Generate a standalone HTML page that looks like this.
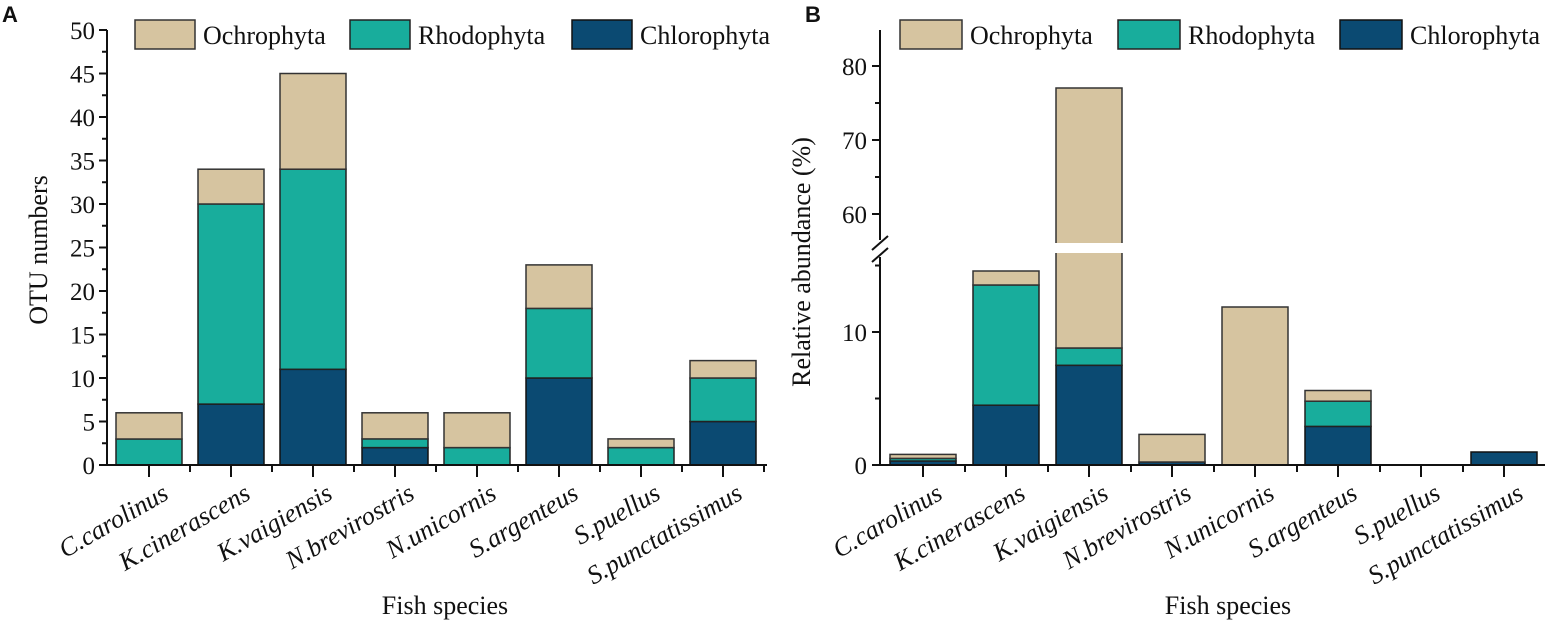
<!DOCTYPE html>
<html><head><meta charset="utf-8"><style>
html,body{margin:0;padding:0;background:#fff;}
svg{display:block;}
svg text{font-family:"Liberation Serif","DejaVu Serif",serif;fill:#111;}
svg text.p{font-family:"Liberation Sans","DejaVu Sans",sans-serif;font-weight:bold;font-size:22px;}
.t{font-size:25px;}
.l{font-size:26px;}
.i{font-size:26px;font-style:italic;}
.o{fill:#d6c4a0;stroke:#333;stroke-width:1.5}
.r{fill:#18ad9c;stroke:#222;stroke-width:1.5}
.c{fill:#0b4a72;stroke:#111;stroke-width:1.5}
.ax{stroke:#111;stroke-width:2;fill:none}
</style></head><body>
<svg width="1552" height="625" viewBox="0 0 1552 625" font-family="Liberation Serif, serif">
<text class="p" x="2" y="22">A</text>
<text class="p" x="805" y="22">B</text>
<!-- Legend A -->
<rect class="o" x="135" y="20" width="60" height="29"/><text class="l" x="203" y="44">Ochrophyta</text>
<rect class="r" x="350" y="20" width="60" height="29"/><text class="l" x="418" y="44">Rhodophyta</text>
<rect class="c" x="572" y="20" width="60" height="29"/><text class="l" x="640" y="44">Chlorophyta</text>
<!-- Legend B -->
<rect class="o" x="900" y="20" width="62" height="29"/><text class="l" x="970" y="44">Ochrophyta</text>
<rect class="r" x="1118" y="20" width="62" height="29"/><text class="l" x="1188" y="44">Rhodophyta</text>
<rect class="c" x="1340" y="20" width="62" height="29"/><text class="l" x="1410" y="44">Chlorophyta</text>

<!-- Chart A bars -->
<rect class="r" x="116" y="439" width="66" height="26"/><rect class="o" x="116" y="412.8" width="66" height="26.2"/>
<rect class="c" x="198" y="404.1" width="66" height="60.9"/><rect class="r" x="198" y="204" width="66" height="200.1"/><rect class="o" x="198" y="169.2" width="66" height="34.8"/>
<rect class="c" x="280" y="369.3" width="66" height="95.7"/><rect class="r" x="280" y="169.2" width="66" height="200.1"/><rect class="o" x="280" y="73.5" width="66" height="95.7"/>
<rect class="c" x="362" y="447.6" width="66" height="17.4"/><rect class="r" x="362" y="438.9" width="66" height="8.7"/><rect class="o" x="362" y="412.8" width="66" height="26.1"/>
<rect class="r" x="444" y="447.6" width="66" height="17.4"/><rect class="o" x="444" y="412.8" width="66" height="34.8"/>
<rect class="c" x="526" y="378" width="66" height="87"/><rect class="r" x="526" y="308.4" width="66" height="69.6"/><rect class="o" x="526" y="264.9" width="66" height="43.5"/>
<rect class="r" x="608" y="447.6" width="66" height="17.4"/><rect class="o" x="608" y="438.9" width="66" height="8.7"/>
<rect class="c" x="690" y="421.5" width="66" height="43.5"/><rect class="r" x="690" y="378" width="66" height="43.5"/><rect class="o" x="690" y="360.6" width="66" height="17.4"/>

<!-- Axes A -->
<path class="ax" d="M107 30 V465 H767"/>
<g stroke="#111" stroke-width="2">
<path d="M99 465H107M99 421.5H107M99 378H107M99 334.5H107M99 291H107M99 247.5H107M99 204H107M99 160.5H107M99 117H107M99 73.5H107M99 30H107"/>
<path d="M102 443.25H107M102 399.75H107M102 356.25H107M102 312.75H107M102 269.25H107M102 225.75H107M102 182.25H107M102 138.75H107M102 95.25H107M102 51.75H107"/>
<path d="M149 465v12M231 465v12M313 465v12M395 465v12M477 465v12M559 465v12M641 465v12M723 465v12"/>
<path d="M190 465v7M272 465v7M354 465v7M436 465v7M518 465v7M600 465v7M682 465v7M764 465v7"/>
</g>
<g class="t" text-anchor="end">
<text x="95" y="474">0</text><text x="95" y="430.5">5</text><text x="95" y="387">10</text><text x="95" y="343.5">15</text><text x="95" y="300">20</text><text x="95" y="256.5">25</text><text x="95" y="213">30</text><text x="95" y="169.5">35</text><text x="95" y="126">40</text><text x="95" y="82.5">45</text><text x="95" y="39">50</text>
</g>
<text class="l" transform="translate(47 250) rotate(-90)" text-anchor="middle">OTU numbers</text>
<g class="i" text-anchor="end">
<text transform="translate(170 498) rotate(-30)">C.carolinus</text>
<text transform="translate(252 498) rotate(-30)">K.cinerascens</text>
<text transform="translate(334 498) rotate(-30)">K.vaigiensis</text>
<text transform="translate(416 498) rotate(-30)">N.brevirostris</text>
<text transform="translate(498 498) rotate(-30)">N.unicornis</text>
<text transform="translate(580 498) rotate(-30)">S.argenteus</text>
<text transform="translate(662 498) rotate(-30)">S.puellus</text>
<text transform="translate(744 498) rotate(-30)">S.punctatissimus</text>
</g>
<text class="l" x="445" y="614" text-anchor="middle">Fish species</text>

<!-- Chart B bars -->
<rect class="c" x="890" y="461" width="66" height="4"/><rect class="r" x="890" y="458.4" width="66" height="2.6"/><rect class="o" x="890" y="454.4" width="66" height="4"/>
<rect class="c" x="973" y="405.2" width="66" height="59.8"/><rect class="r" x="973" y="285" width="66" height="120.2"/><rect class="o" x="973" y="271" width="66" height="14"/>
<rect class="c" x="1056" y="365.3" width="66" height="99.7"/><rect class="r" x="1056" y="348" width="66" height="17.3"/><rect class="o" x="1056" y="88" width="66" height="260"/>
<rect x="1050" y="243" width="80" height="10" fill="#fff"/>
<rect class="c" x="1139" y="462" width="66" height="3"/><rect class="o" x="1139" y="434.4" width="66" height="27.6"/>
<rect class="o" x="1222" y="307" width="66" height="158"/>
<rect class="c" x="1305" y="426.4" width="66" height="38.6"/><rect class="r" x="1305" y="401.2" width="66" height="25.2"/><rect class="o" x="1305" y="390.5" width="66" height="10.7"/>
<rect class="c" x="1471" y="452" width="66" height="13"/>

<!-- Axes B -->
<path class="ax" d="M880 30 V240 M880 257 V465 H1545"/>
<path d="M872 250 L888 236 M872 262 L888 248" stroke="#111" stroke-width="2"/>
<g stroke="#111" stroke-width="2">
<path d="M872 465H880M872 332H880M872 214H880M872 140H880M872 66H880"/>
<path d="M875 398.5H880M875 265.5H880M875 177H880M875 103H880"/>
<path d="M923 465v12M1006 465v12M1089 465v12M1172 465v12M1255 465v12M1338 465v12M1421 465v12M1504 465v12"/>
<path d="M965 465v7M1048 465v7M1131 465v7M1214 465v7M1297 465v7M1380 465v7M1463 465v7"/>
</g>
<g class="t" text-anchor="end">
<text x="867" y="474">0</text><text x="867" y="341">10</text><text x="867" y="223">60</text><text x="867" y="149">70</text><text x="867" y="75">80</text>
</g>
<text class="l" transform="translate(810 262) rotate(-90)" text-anchor="middle">Relative abundance (%)</text>
<g class="i" text-anchor="end">
<text transform="translate(944 498) rotate(-30)">C.carolinus</text>
<text transform="translate(1027 498) rotate(-30)">K.cinerascens</text>
<text transform="translate(1110 498) rotate(-30)">K.vaigiensis</text>
<text transform="translate(1193 498) rotate(-30)">N.brevirostris</text>
<text transform="translate(1276 498) rotate(-30)">N.unicornis</text>
<text transform="translate(1359 498) rotate(-30)">S.argenteus</text>
<text transform="translate(1442 498) rotate(-30)">S.puellus</text>
<text transform="translate(1525 498) rotate(-30)">S.punctatissimus</text>
</g>
<text class="l" x="1228" y="614" text-anchor="middle">Fish species</text>
</svg>
</body></html>
